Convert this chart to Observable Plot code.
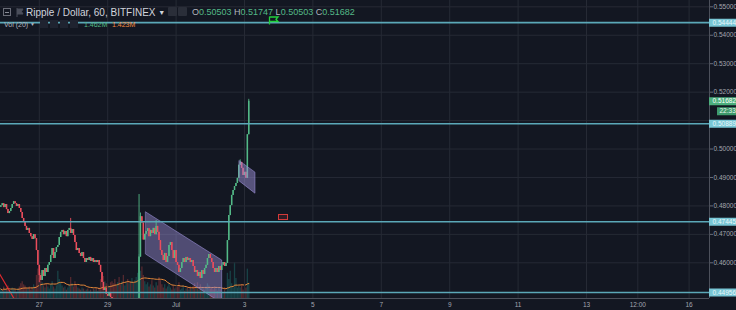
<!DOCTYPE html>
<html><head><meta charset="utf-8">
<script src="https://cdn.jsdelivr.net/npm/d3@7"></script>
<script src="https://cdn.jsdelivr.net/npm/@observablehq/plot@0.6"></script>
<style>
html,body{margin:0;padding:0;background:#131722;}
#wrap{position:relative;width:736px;height:310px;background:#131722;overflow:hidden;font-family:"Liberation Sans",Arial,sans-serif;}
#wrap > svg, #wrap > figure{position:absolute;left:0;top:0;margin:0;}
.h{position:absolute;white-space:nowrap;line-height:1;}
.ic{position:absolute;box-sizing:border-box;}
</style></head><body>
<div id="wrap"></div>
<script>
// ---------- data ----------
const symbolTitle = "Ripple / Dollar, 60, BITFINEX";
const volTitle = "Vol (20)";
const firstCandle = "2018-06-25T21:00Z";   // hourly candles
const firstOpen = 0.4795;
const closes = [
  0.4801,0.4808,0.4794,0.4805,0.4787,0.4773,0.4780,0.4791,0.4805,0.4815,
  0.4808,0.4798,0.4805,0.4791,0.4777,0.4756,0.4742,0.4728,0.4714,0.4721,
  0.4703,0.4692,0.4682,0.4699,0.4685,0.4643,0.4591,0.4555,0.4538,0.4573,
  0.4552,0.4580,0.4566,0.4591,0.4601,0.4626,0.4650,0.4615,0.4636,0.4654,
  0.4661,0.4689,0.4707,0.4714,0.4699,0.4710,0.4692,0.4714,0.4721,0.4703,
  0.4717,0.4696,0.4671,0.4643,0.4650,0.4633,0.4622,0.4636,0.4615,0.4601,
  0.4615,0.4608,0.4619,0.4605,0.4615,0.4601,0.4608,0.4601,0.4608,0.4591,
  0.4566,0.4531,0.4503,0.4510,0.4489,0.4482,0.4492,0.4478,0.4471,0.4462,
  0.4455,0.4448,0.4452,0.4445,0.4440,0.4446,0.4438,0.4443,0.4450,0.4444,
  0.4452,0.4447,0.4455,0.4449,0.4457,0.4462,0.4468,0.4620,0.4762,0.4740,
  0.4680,0.4700,0.4710,0.4720,0.4692,0.4714,0.4703,0.4721,0.4699,0.4728,
  0.4707,0.4678,0.4643,0.4626,0.4608,0.4633,0.4601,0.4622,0.4661,0.4671,
  0.4643,0.4615,0.4643,0.4601,0.4591,0.4566,0.4580,0.4601,0.4615,0.4601,
  0.4619,0.4608,0.4615,0.4601,0.4608,0.4587,0.4566,0.4573,0.4552,0.4566,
  0.4545,0.4573,0.4559,0.4580,0.4591,0.4615,0.4629,0.4615,0.4601,0.4580,
  0.4566,0.4580,0.4566,0.4587,0.4573,0.4591,0.4601,0.4587,0.4598,0.4678,
  0.4766,0.4801,0.4837,0.4854,0.4868,0.4879,0.4897,0.4943,0.4953,0.4932,
  0.4907,0.4918,0.4897,0.50503,0.51682
];
const highOverrides = [[49,0.4756],[97,0.4840],[98,0.4775],[109,0.4749],[168,0.4962],[174,0.51747]];
const lowOverrides = [[27,0.4530],[97,0.4462]];
const volumes = [
  0.9,0.7,1.1,0.8,1.0,1.2,0.8,0.7,1.0,0.9,
  0.8,0.6,0.9,1.1,1.4,1.6,1.3,1.2,1.0,0.9,
  1.1,0.8,1.0,1.3,1.1,2.2,2.8,1.9,2.4,1.5,
  1.2,1.0,1.4,1.1,0.9,1.3,1.6,1.1,0.9,1.2,
  2.6,1.8,1.5,1.2,1.0,1.1,0.8,1.0,1.3,2.0,
  1.4,1.1,1.6,1.3,1.0,0.9,0.8,1.0,0.9,0.7,
  0.8,0.9,0.7,0.8,0.6,0.9,0.8,1.0,0.7,1.0,
  1.8,2.4,2.1,1.6,1.4,1.3,1.1,1.5,1.6,1.4,
  1.8,1.2,1.5,2.0,1.3,1.6,2.2,1.2,1.5,1.8,
  1.4,1.6,1.9,1.5,1.7,2.0,2.4,4.2,2.6,3.0,
  2.2,1.6,1.3,1.5,1.1,1.3,1.7,1.2,1.0,1.5,
  1.2,2.0,1.7,1.3,1.0,1.3,0.9,1.1,1.4,1.0,
  0.8,1.2,0.9,1.0,1.1,1.5,0.8,0.9,1.2,0.7,
  0.9,1.0,0.8,1.1,0.9,1.2,1.4,1.0,1.5,0.8,
  1.3,1.0,0.9,0.8,1.1,1.4,1.2,0.9,1.0,0.8,
  1.1,0.9,0.7,1.0,0.8,0.6,0.5,1.0,0.6,2.4,
  1.8,2.6,1.4,1.0,3.4,1.9,1.0,1.2,1.0,1.3,
  0.8,0.7,1.0,2.8,1.462
];
const levels = [0.54444, 0.50889, 0.47445, 0.44956];
const priceTicks = [0.46,0.47,0.48,0.49,0.50,0.51,0.52,0.53,0.54,0.55];
const hiddenPriceLabels = [0.51];   // covered by the 0.50889 label
const timeTicks = ["2018-06-27","2018-06-29","2018-07-01","2018-07-03","2018-07-05","2018-07-07","2018-07-09","2018-07-11","2018-07-13","2018-07-14T12:00","2018-07-16"];
const timeTickLabels = ["27","29","Jul","3","5","7","9","11","13","12:00","16"];
const xDomain = ["2018-06-25T20:46Z","2018-07-16T14:19Z"];
const yDomain = [0.44745, 0.55222];
const channelA = [{t:"2018-06-30T03:00Z", top:0.4777, bot:0.4629},{t:"2018-07-02T08:20Z", top:0.4608, bot:0.4457}];
const channelB = [{t:"2018-07-02T20:40Z", top:0.4957, bot:0.4886},{t:"2018-07-03T07:40Z", top:0.4917, bot:0.4843}];
const trendLine = [{t:"2018-06-25T20:00Z", p:0.4562},{t:"2018-06-26T07:00Z", p:0.4468}];
const countdown = "22:33";
const axisEnd = "2018-07-17T18:00Z";

// ---------- build ----------
const UP="#53b987", DOWN="#eb4d5c", LINE="#5ba8b8", GRID="#262a35";
const t0 = new Date(firstCandle).getTime();
const hiMap = new Map(highOverrides), loMap = new Map(lowOverrides);
const candles = closes.map((c,i)=>{
  const o = i===0 ? firstOpen : closes[i-1];
  return {t:new Date(t0 + i*3600e3), open:o, close:c,
    high: hiMap.has(i)?hiMap.get(i):Math.max(o,c),
    low: loMap.has(i)?loMap.get(i):Math.min(o,c),
    vol: volumes[i], up: c>=o};
});
const last = candles[candles.length-1];
const tickDates = timeTicks.map(d=>new Date(d.length===10? d+"T00:00Z" : d+"Z"));
const tickLabel = new Map(tickDates.map((d,i)=>[+d, timeTickLabels[i]]));
const xd = xDomain.map(d=>new Date(d));
const fmt = d3.format(".5f");
const W=736,H=310,MR=27,MB=12;
const common = {width:W,height:H,marginLeft:0,marginRight:MR,marginTop:0,marginBottom:MB};
const FS = 6.5;

const volPlot = Plot.plot({
  ...common,
  style:{background:"transparent"},
  x:{type:"utc",domain:xd,axis:null},
  y:{domain:[0,28.4],axis:null},
  marks:[
    Plot.ruleX(candles,{x:"t",y1:0,y2:"vol",stroke:d=>d.up?"#26a69a":"#ef5350",strokeOpacity:0.3,strokeWidth:1.3}),
    Plot.lineY(candles,Plot.windowY({k:20,anchor:"end",reduce:"mean"},{x:"t",y:"vol",stroke:"#e88a3a",strokeWidth:1}))
  ]
});

const pricePlot = Plot.plot({
  ...common,
  style:{background:"transparent",color:"#a3a6af",fontFamily:"'Liberation Sans',Arial,sans-serif",fontSize:FS+"px"},
  x:{type:"utc",domain:xd,label:null},
  y:{domain:yDomain,label:null},
  marks:[
    Plot.gridX(tickDates,{stroke:GRID,strokeOpacity:1}),
    Plot.gridY(priceTicks,{stroke:GRID,strokeOpacity:1}),
    Plot.axisX(tickDates,{label:null,tickSize:0,tickPadding:4,tickFormat:d=>tickLabel.get(+d),fill:"#a3a6af"}),
    Plot.axisY(priceTicks.filter(p=>!hiddenPriceLabels.includes(p)),{label:null,anchor:"right",tickSize:3,tickPadding:1,tickFormat:fmt,stroke:"#6a6d78",fill:"#a3a6af"}),
    Plot.areaY(channelA,{x:d=>new Date(d.t),y1:"bot",y2:"top",fill:"#9b8fd6",fillOpacity:0.45,stroke:"#9b8fd6",strokeOpacity:0.6,strokeWidth:1,clip:true}),
    Plot.line(trendLine,{x:d=>new Date(d.t),y:"p",stroke:"#e0292f",strokeWidth:1.2,clip:true}),
    Plot.ruleX(candles,{x:"t",y1:"low",y2:"high",stroke:d=>d.up?UP:DOWN,strokeWidth:0.9,clip:true}),
    Plot.ruleX(candles,{x:"t",y1:"open",y2:"close",stroke:d=>d.up?UP:DOWN,strokeWidth:1.5,clip:true}),
    Plot.areaY(channelB,{x:d=>new Date(d.t),y1:"bot",y2:"top",fill:"#9b8fd6",fillOpacity:0.5,stroke:"#9b8fd6",strokeOpacity:0.6,strokeWidth:1,clip:true}),
    Plot.ruleY(levels,{stroke:LINE,strokeWidth:1.6}),
    Plot.ruleX([xd[1]],{stroke:"#4c505b",strokeWidth:1}),
    Plot.ruleY([yDomain[0]],{stroke:"#4c505b",strokeWidth:1}),
    // axis price labels
    Plot.ruleY(levels,{x1:xd[1],x2:new Date(axisEnd),stroke:"#79c6d5",strokeWidth:8}),
    Plot.text(levels,{x:xd[1],y:d=>d,text:d=>fmt(d),textAnchor:"start",dx:3,fill:"#eaf8fb",fontSize:FS}),
    Plot.ruleY([last.close],{x1:xd[1],x2:new Date(axisEnd),stroke:"#4caf7d",strokeWidth:8}),
    Plot.text([last.close],{x:xd[1],y:d=>d,text:d=>fmt(d),textAnchor:"start",dx:3,fill:"#ffffff",fontSize:FS}),
    Plot.ruleY([last.close],{x1:xd[1],x2:new Date(axisEnd),dx:8,dy:10,stroke:"#3f9a6c",strokeWidth:8}),
    Plot.text([last.close],{x:xd[1],y:d=>d,text:()=>countdown,textAnchor:"start",dx:10,dy:10,fill:"#e8f5ee",fontSize:FS})
  ]
});

const wrap = document.getElementById("wrap");
wrap.appendChild(volPlot);
wrap.appendChild(pricePlot);

// ---------- header overlay ----------
const f5 = v=>v.toFixed(5);
const ma20 = d3.mean(volumes.slice(-20));
const hdr = [
  `<div class="ic" style="left:3px;top:8px;width:8px;height:8px;border:1px solid #6a6d78;"><div style="position:absolute;left:1px;top:2.5px;width:4px;height:1px;background:#8a8d98"></div></div>`,
  `<svg class="ic" style="left:16px;top:8px" width="8" height="9"><path d="M1 0 V9 M1 1 H7 L5.5 3.5 L7 6 H1" fill="#4a4e5a" stroke="#4a4e5a"/></svg>`,
  `<div class="h" style="left:26px;top:7.5px;font-size:10px;color:#d1d4dc;">${symbolTitle} <span style="font-size:7px;position:relative;top:-1px">▼</span></div>`,
  `<div class="ic" style="left:168px;top:7px;width:9px;height:9px;background:#2a2e39;border-radius:1px"></div>`,
  `<div class="ic" style="left:178px;top:7px;width:9px;height:9px;background:#2a2e39;border-radius:1px"></div>`,
  `<div class="h" style="left:192px;top:8px;font-size:9px;color:#b2b5be;">O<span style="color:${UP}">${f5(last.open)}</span> H<span style="color:${UP}">${f5(last.high)}</span> L<span style="color:${UP}">${f5(last.low)}</span> C<span style="color:${UP}">${f5(last.close)}</span></div>`,
  `<div class="h" style="left:4px;top:20.5px;font-size:7px;color:#b2b5be;">${volTitle} <span style="font-size:5px;position:relative;top:-1px">▼</span></div>`,
  `<div class="ic" style="left:40px;top:19.5px;width:8px;height:8px;background:#1f2330"></div>`,
  `<div class="ic" style="left:50px;top:19.5px;width:8px;height:8px;background:#1f2330"></div>`,
  `<div class="ic" style="left:60px;top:19.5px;width:8px;height:8px;background:#1f2330"></div>`,
  `<div class="ic" style="left:70px;top:19.5px;width:8px;height:8px;background:#1f2330"></div>`,
  `<div class="h" style="left:84px;top:20.5px;font-size:7px;color:${UP};">${last.vol.toFixed(3)}M</div>`,
  `<div class="h" style="left:112px;top:20.5px;font-size:7px;color:#f0883e;">${ma20.toFixed(3)}M</div>`,
  `<svg class="ic" style="left:268px;top:16px" width="12" height="9"><path d="M1.5 0.5 V8.5 M1.5 1 H10 L8 3.2 L10 5.5 H1.5" fill="none" stroke="#22d13c" stroke-width="1.3"/></svg>`,
  `<div class="ic" style="left:278px;top:214px;width:10px;height:6px;border:1px solid #d23a3a;background:rgba(210,58,58,0.15)"></div>`
].join("");
const ov = document.createElement("div");
ov.innerHTML = hdr;
while (ov.firstChild) wrap.appendChild(ov.firstChild);
</script>
</body></html>
